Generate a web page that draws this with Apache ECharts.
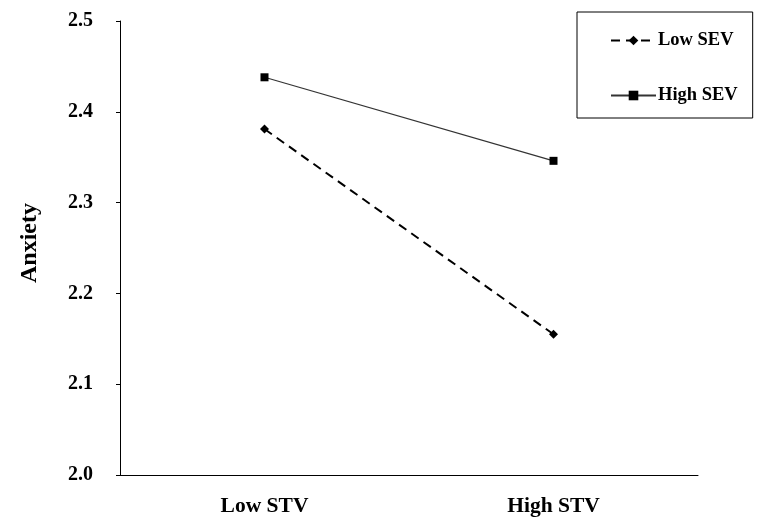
<!DOCTYPE html>
<html>
<head>
<meta charset="utf-8">
<script src="https://cdn.jsdelivr.net/npm/echarts@6/dist/echarts.min.js"></script>
<style>
html,body{margin:0;padding:0;background:#fff;}
#main{width:758px;height:517px;}
</style>
</head>
<body>
<div id="main"></div>
<script>
var categories = ['Low STV', 'High STV'];
var lowSEV = [2.381, 2.155];
var highSEV = [2.438, 2.346];
var yTicks = [2.0, 2.1, 2.2, 2.3, 2.4, 2.5];

var font = '"Liberation Serif", "Times New Roman", serif';
var chart = echarts.init(document.getElementById('main'));
chart.setOption({
  animation: false,
  backgroundColor: '#fff',
  textStyle: { fontFamily: font },
  grid: { left: 120, right: 60, top: 21, bottom: 39 },
  legend: {
    orient: 'vertical',
    left: 577, top: 12,
    padding: [19, 15, 13, 33],
    itemGap: 36,
    itemWidth: 45,
    itemHeight: 12,
    borderColor: '#000',
    borderWidth: 1,
    textStyle: { fontFamily: font, fontWeight: 'bold', fontSize: 18.5, color: '#000', padding: [0,0,0,-3] },
    data: ['Low SEV', 'High SEV']
  },
  xAxis: {
    type: 'category',
    data: categories,
    boundaryGap: true,
    axisLine: { lineStyle: { color: '#000', width: 1 } },
    axisTick: { inside: true, length: 5, alignWithLabel: true, lineStyle: { color: '#000' } },
    axisLabel: { margin: 20, fontFamily: font, fontWeight: 'bold', fontSize: 21.5, color: '#000' }
  },
  yAxis: {
    type: 'value',
    min: yTicks[0], max: yTicks[yTicks.length - 1], interval: 0.1,
    name: 'Anxiety',
    nameLocation: 'middle',
    nameGap: 78,
    nameRotate: 90,
    nameTextStyle: { fontFamily: font, fontWeight: 'bold', fontSize: 24, color: '#000', padding: [0, 0, 0, 10] },
    axisLine: { show: true, lineStyle: { color: '#000', width: 1 } },
    axisTick: { show: true, length: 4, lineStyle: { color: '#000' } },
    splitLine: { show: false },
    axisLabel: { margin: 27, fontFamily: font, fontWeight: 'bold', fontSize: 20, color: '#000',
      formatter: function (v) { return v.toFixed(1); } }
  },
  series: [
    {
      name: 'Low SEV', type: 'line', data: lowSEV,
      symbol: 'diamond', symbolSize: 9,
      lineStyle: { color: '#000', width: 2, type: [9, 6] },
      itemStyle: { color: '#000' }
    },
    {
      name: 'High SEV', type: 'line', data: highSEV,
      symbol: 'rect', symbolSize: 8,
      lineStyle: { color: '#333', width: 1.2, type: 'solid' },
      itemStyle: { color: '#000' }
    }
  ]
});
</script>
</body>
</html>
